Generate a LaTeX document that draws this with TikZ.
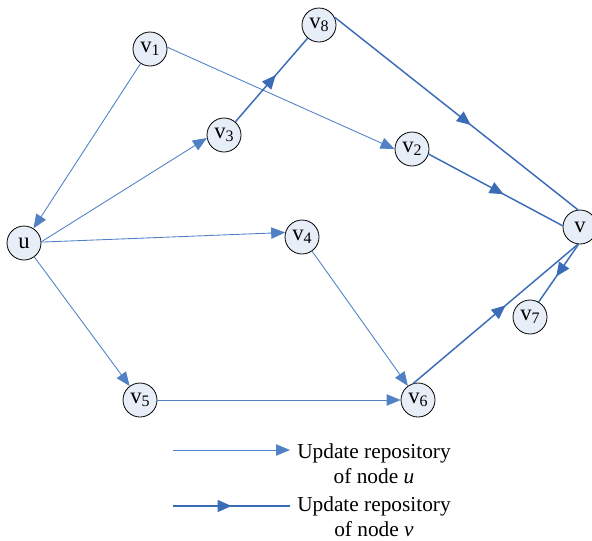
\documentclass[tikz,border=0pt]{standalone}
\usepackage{fontspec}
\setmainfont{Liberation Serif}
\usetikzlibrary{arrows.meta,decorations.markings}
\definecolor{thinblue}{RGB}{79,129,196}
\definecolor{thickblue}{RGB}{58,108,184}
\definecolor{nodefill}{RGB}{232,238,248}
\newcommand{\vsub}[1]{v\raisebox{-2.6pt}{\fontsize{12}{12}\selectfont #1}}
\begin{document}
\begin{tikzpicture}[x=0.75pt,y=-0.75pt,
  vnode/.style={circle,draw=black,line width=0.6pt,fill=nodefill,minimum size=25.5pt,inner sep=0pt,font=\fontsize{17}{17}\selectfont},
  uedge/.style={color=thinblue,line width=0.65pt,-{Triangle[length=10.5pt,width=8.5pt]}},
  vedge/.style={color=thickblue,line width=1.1pt,postaction={decorate},
    decoration={markings,mark=at position #1 with {\arrow{Triangle[length=10.5pt,width=9pt]}}}},
  vedge/.default=0.56,
  legtext/.style={anchor=north west,align=center,inner sep=0pt,font=\fontsize{16}{18.75}\selectfont}]
\useasboundingbox (0,0) rectangle (592,540);
% nodes
\node[vnode] (v1) at (150,49) {\vsub{1}};
\node[vnode] (v8) at (319,25) {\vsub{8}};
\node[vnode] (v3) at (224,135) {\vsub{3}};
\node[vnode] (v2) at (412,149) {\vsub{2}};
\node[vnode] (u) at (24,243) {u};
\node[vnode] (v4) at (302,237) {\vsub{4}};
\node[vnode] (v) at (580,227) {v};
\node[vnode] (v7) at (530,317) {\vsub{7}};
\node[vnode] (v5) at (140,400) {\vsub{5}};
\node[vnode] (v6) at (418,400) {\vsub{6}};
% thin edges (update of u)
\draw[uedge] (v1) -- (u);
\draw[uedge] (u.4) -- (v3.190);
\draw[uedge] (u.3) -- (v4.165);
\draw[uedge] (u) -- (v5);
\draw[uedge] (v1.6) -- (v2.180);
\draw[uedge] (v4) -- (v6);
\draw[uedge] (v5) -- (v6);
% thick edges (update of v)
\draw[vedge] (v3) -- (v8);
\draw[vedge] (v8.27) -- (v.97);
\draw[vedge] (v2.-17) -- (v.176);
\draw[vedge] (v6.105) -- (v.-97);
\draw[vedge] (v.-95) -- (v7.60);
% legend
\coordinate (l1a) at (173,450);
\coordinate (l1b) at (290,450);
\coordinate (l2a) at (173,506);
\coordinate (l2b) at (290,506);
\draw[uedge] (l1a) -- (l1b);
\draw[vedge=0.5] (l2a) -- (l2b);
\node[legtext] (t1) at (297,443) {Update repository\\of node \textit{u}};
\node[legtext] (t2) at (297,496) {Update repository\\of node \textit{v}};
\end{tikzpicture}
\end{document}
